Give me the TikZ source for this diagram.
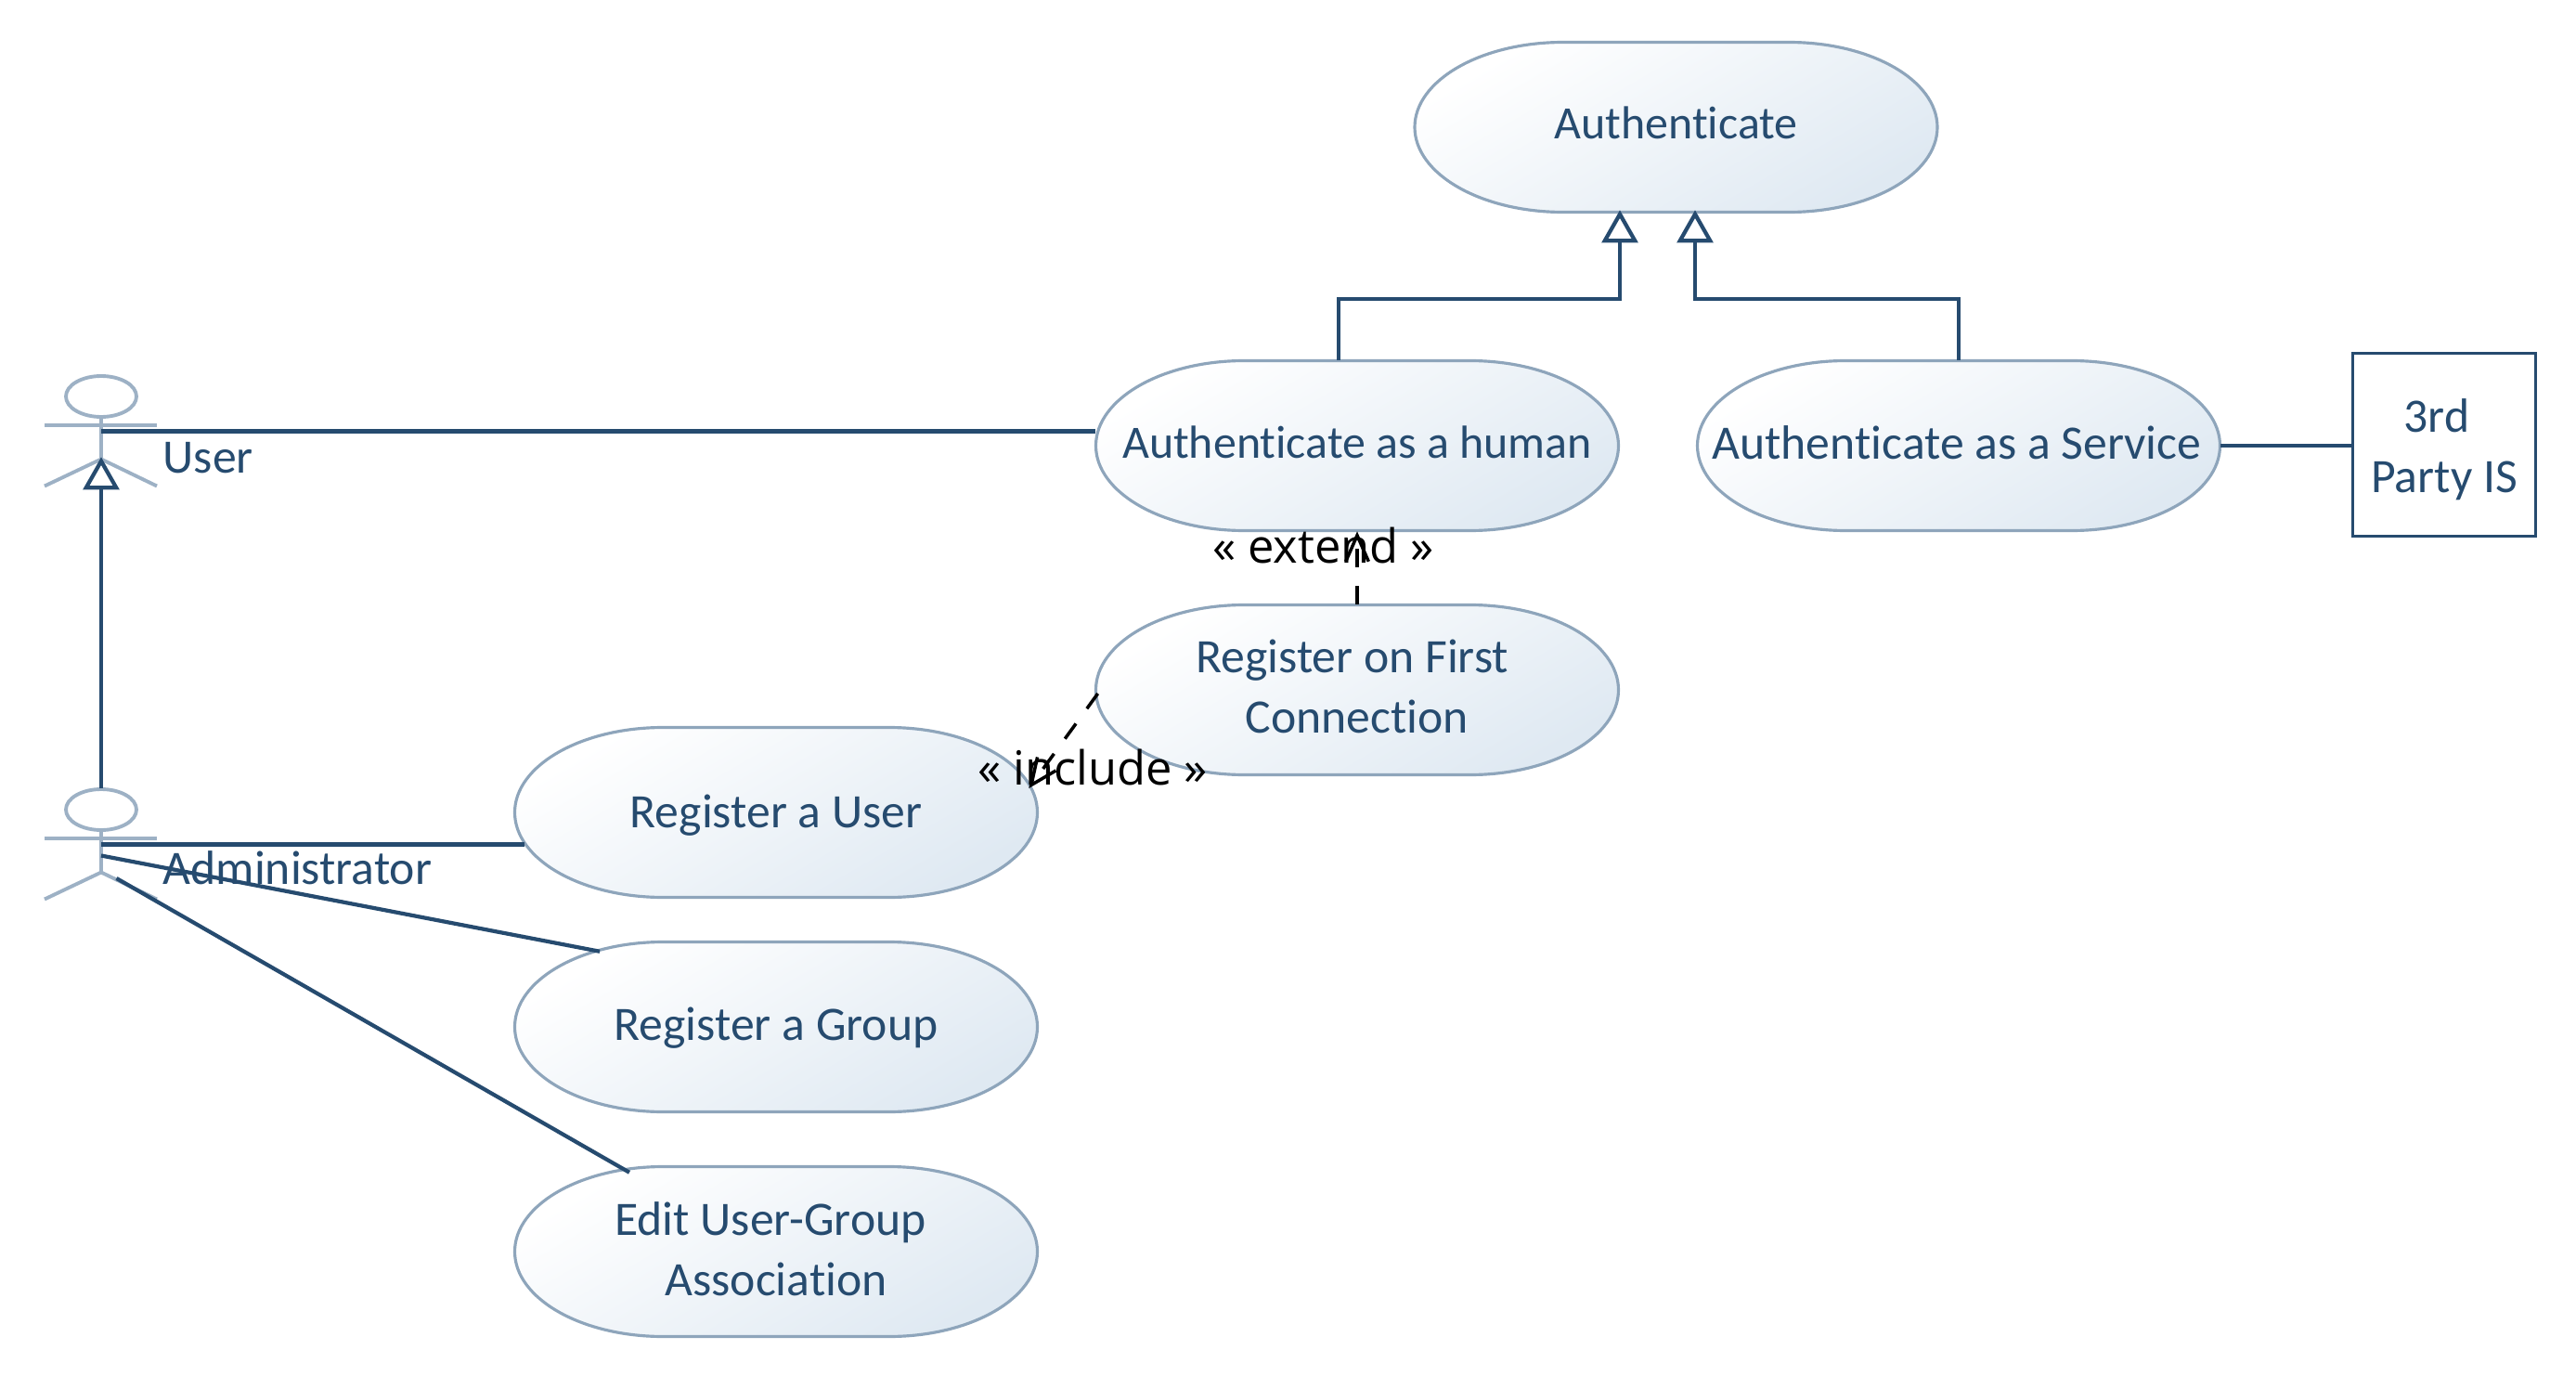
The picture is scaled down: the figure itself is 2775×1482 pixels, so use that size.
\documentclass[tikz,border=0pt]{standalone}
\usepackage{fontspec}
\setmainfont[Ligatures=CommonOff]{Carlito}
\newfontfamily\stereofont{Open Sans}
\usetikzlibrary{arrows.meta}
\definecolor{umlblue}{HTML}{264B6F}
\definecolor{umledge}{HTML}{8EA5BB}
\definecolor{umlactor}{HTML}{9DB1C5}
\definecolor{umlfill}{HTML}{DFE9F2}
\newcommand{\narrowtext}{\fontsize{14.2}{18.5}\selectfont}
\tikzset{
  ucshape/.style={draw=umledge,line width=0.9pt,top color=white,bottom color=umlfill,shading angle=30},
  usecase/.style={rectangle,minimum width=5.63cm,minimum height=1.83cm,inner sep=0pt},
  umltext/.style={inner sep=0pt,align=center,text=umlblue,font=\fontsize{14.7}{18.5}\selectfont},
  actor/.style={rectangle,minimum width=1.21cm,minimum height=1.19cm,inner sep=0pt},
  actorline/.style={draw=umlactor,line width=1.1pt},
  actorname/.style={umltext,anchor=base west},
  assoc/.style={draw=umlblue,line width=1.2pt},
  general/.style={assoc,-{Triangle[open,fill=white,length=10pt,width=11pt]}},
  depend/.style={draw=black,line width=1pt,dash pattern=on 5.7pt off 5.7pt,-{Straight Barb[length=8pt,width=7pt]}},
  stereo/.style={inner sep=0pt,anchor=base,text=black,font=\stereofont\fontsize{14.4}{16}\selectfont}
}
\begin{document}
\begin{tikzpicture}[x=0.01cm,y=0.01cm]
\useasboundingbox (0,0) rectangle (2775,-1482);
% use cases
\foreach \name/\cx/\cy/\ty/\txt in {auth/1805.5/-137/5/{\narrowtext Authenticate},
  human/1462/-480/3.5/{\narrowtext Authenticate as a human},
  service/2110/-480/3.5/{Authenticate as a Service\kern1.2pt},
  regFirst/1462/-743/3.5/{Register on First\kern3pt\\Connection},
  regUser/836/-875/-3.5/Register a User,
  regGroup/836/-1106/-1.5/Register a Group,
  editAssoc/836/-1348/2.5/{Edit User-Group\kern3.5pt\\Association}}{
  \path[ucshape] (\cx-281.5,\cy) arc[start angle=180,end angle=90,x radius=160,y radius=91.5]
    -- ++(243,0) arc[start angle=90,end angle=0,x radius=160,y radius=91.5]
    arc[start angle=0,end angle=-90,x radius=160,y radius=91.5]
    -- ++(-243,0) arc[start angle=-90,end angle=-180,x radius=160,y radius=91.5] -- cycle;
  \node[usecase] (\name) at (\cx,\cy) {};
  \node[umltext] (\name Text) at (\cx,\cy+\ty) {\txt};
}
% actors
\foreach \name/\cy in {userActor/-464.5,adminActor/-909.5}{
  \node[actor] (\name) at (109,\cy) {};
  \draw[actorline] (109,\cy+37.5) circle[x radius=38,y radius=22];
  \draw[actorline] (48,\cy+6.5) -- (169,\cy+6.5);
  \draw[actorline] (109,\cy+15.5) -- (109,\cy-30) -- (48,\cy-59);
  \draw[actorline] (109,\cy-30) -- (169,\cy-59);
}
\node[actorname] (userName) at (175,-509) {User};
\node[actorname] (adminName) at (175,-952) {Administrator};
% external system
\node[rectangle,draw=umlblue,line width=0.9pt,minimum width=1.97cm,minimum height=1.97cm,inner sep=0pt] (thirdParty) at (2633,-479) {};
\node[umltext] (thirdText) at (2633,-484) {3rd\kern4.5pt\\Party IS};
% connectors
\draw[assoc] (userActor.center) -- (userActor.center -| human.west);
\draw[general] (adminActor.north) -- ([shift={(0,-88)}]userActor.north);
\draw[assoc] (adminActor.center) -- ([shift={(11,0)}]adminActor.center -| regUser.west);
\draw[assoc] ([shift={(0,-12)}]adminActor.center) -- ([shift={(-190,-11)}]regGroup.north);
\draw[assoc] ([shift={(16.5,-36.5)}]adminActor.center) -- ([shift={(-158,-7)}]editAssoc.north);
\draw[general] ([shift={(-20,0)}]human.north) -- ++(0,66) -| ([shift={(-60.5,3)}]auth.south);
\draw[general] (service.north) -- ++(0,66) -| ([shift={(20.5,3)}]auth.south);
\draw[assoc] (service.east) -- (service.east -| thirdParty.west);
\draw[depend] (regFirst.north) -- (human.south);
\draw[depend] ([shift={(3,-4)}]regFirst.west) -- ([shift={(-10,26)}]regUser.east);
\node[stereo] (extendLabel) at (1425.5,-606) {« extend »};
\node[stereo] (includeLabel) at (1177,-845) {« include »};
\end{tikzpicture}
\end{document}
